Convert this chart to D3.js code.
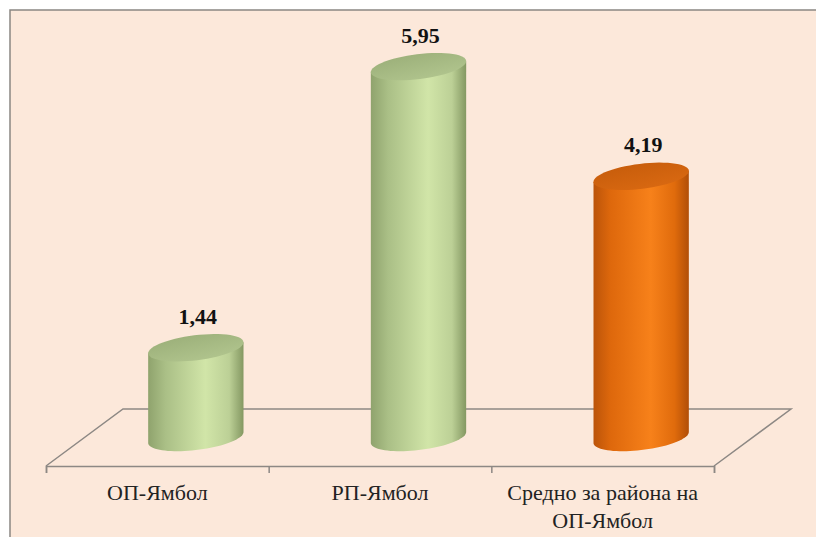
<!DOCTYPE html>
<html>
<head>
<meta charset="utf-8">
<script src="https://cdn.jsdelivr.net/npm/d3@7"></script>
<style>
  body { margin: 0; background: #fff; }
  svg { display: block; }
</style>
</head>
<body>
<svg width="816" height="537"></svg>
<script>
// data
var categories = ["ОП-Ямбол", "РП-Ямбол", "Средно за района на\nОП-Ямбол"];
var values = [1.44, 5.95, 4.19];
var yDomain = [0, 6];

var svg = d3.select("svg"),
    width = +svg.attr("width"),
    height = +svg.attr("height");

// comma decimal like the original
var fmt = d3.formatLocale({ decimal: ",", thousands: " ", grouping: [3], currency: ["", ""] }).format(".2f");

// background panel
svg.append("rect")
    .attr("x", 10).attr("y", 10)
    .attr("width", width).attr("height", height)
    .attr("fill", "#fce8da")
    .attr("stroke", "#8b8682")
    .attr("stroke-width", 1.5);

// floor geometry (front edge + depth offset)
var frontY = 466,
    depth = { dx: 77, dy: -57 };

var x = d3.scaleBand()
    .domain(categories)
    .range([46, 714])
    .paddingInner(0).paddingOuter(0);

var baseY = frontY + depth.dy / 2;
var y = d3.scaleLinear()
    .domain(yDomain)
    .range([baseY, baseY - 374]);

var color = d3.scaleOrdinal()
    .domain(categories)
    .range(["green", "green", "orange"]);

// gradients
var defs = svg.append("defs");
var palettes = {
  green: { body: ["#8fa36d", "#aabf86", "#d1e5a8", "#bcd096", "#849862"], top: ["#97ab75", "#b3c790"] },
  orange: { body: ["#bb540a", "#de680c", "#f7811a", "#e06b0c", "#b14e08"], top: ["#c35a0a", "#db6a12"] }
};
Object.keys(palettes).forEach(function (k) {
  var p = palettes[k];
  var g = defs.append("linearGradient").attr("id", "body-" + k)
      .attr("x1", "0").attr("x2", "1").attr("y1", "0").attr("y2", "0");
  [0, 0.18, 0.6, 0.85, 1].forEach(function (o, i) {
    g.append("stop").attr("offset", o).attr("stop-color", p.body[i]);
  });
  var t = defs.append("linearGradient").attr("id", "top-" + k)
      .attr("x1", "0").attr("x2", "0.8").attr("y1", "0").attr("y2", "1");
  t.append("stop").attr("offset", 0).attr("stop-color", p.top[0]);
  t.append("stop").attr("offset", 1).attr("stop-color", p.top[1]);
});

// floor outline
var x0 = x.range()[0], x1 = x.range()[1];
var floor = [
  [x0, frontY],
  [x0 + depth.dx, frontY + depth.dy],
  [x1 + depth.dx, frontY + depth.dy],
  [x1, frontY]
];
svg.append("path")
    .attr("d", d3.line()(floor))
    .attr("fill", "none")
    .attr("stroke", "#8d8884")
    .attr("stroke-width", 1.5);

// front edge with ticks at category boundaries
var tickScale = d3.scaleLinear().domain([0, categories.length]).range([x0, x1]);
var axis = svg.append("g")
    .attr("transform", "translate(0," + frontY + ")")
    .call(d3.axisBottom(tickScale).tickValues(d3.range(categories.length + 1)).tickSize(7).tickSizeOuter(7).tickFormat(""));
axis.selectAll("path, line").attr("stroke", "#8d8884").attr("stroke-width", 1.5);

// cylinders
var rx = 48, ry = 12.5, tilt = -7 * Math.PI / 180;
function ellipsePt(cx, cy, t) {
  return [
    cx + rx * Math.cos(t) * Math.cos(tilt) - ry * Math.sin(t) * Math.sin(tilt),
    cy + rx * Math.cos(t) * Math.sin(tilt) + ry * Math.sin(t) * Math.cos(tilt)
  ];
}
// parameters of the left/right silhouette points
var tRight = Math.atan(-(ry / rx) * Math.tan(tilt)),
    tLeft = tRight + Math.PI;

var bars = svg.append("g").selectAll("g")
    .data(categories)
    .enter().append("g");

bars.each(function (d, i) {
  var g = d3.select(this);
  var cx = x(d) + x.bandwidth() / 2 + depth.dx / 2,
      yb = y(0), yt = y(values[i]),
      k = color(d);

  // body: top left -> bottom left -> lower arc of bottom -> bottom right -> top right
  var pts = [ellipsePt(cx, yt, tLeft)];
  d3.range(0, 41).forEach(function (j) {
    var t = tLeft - (tLeft - tRight) * j / 40;
    pts.push(ellipsePt(cx, yb, t));
  });
  pts.push(ellipsePt(cx, yt, tRight));
  g.append("path")
      .attr("d", d3.line()(pts) + "Z")
      .attr("fill", "url(#body-" + k + ")");

  var topPts = d3.range(0, 61).map(function (j) { return ellipsePt(cx, yt, j / 60 * 2 * Math.PI); });
  g.append("path")
      .attr("d", d3.line()(topPts) + "Z")
      .attr("fill", "url(#top-" + k + ")");

  g.append("text")
      .attr("x", cx + 2)
      .attr("y", yt - 24)
      .attr("text-anchor", "middle")
      .attr("font-family", "Liberation Serif, Times New Roman, serif")
      .attr("font-weight", "bold")
      .attr("font-size", 22)
      .attr("fill", "#111")
      .text(fmt(values[i]));
});

// category labels
svg.append("g").selectAll("text")
    .data(categories)
    .enter().append("text")
    .attr("x", function (d) { return x(d) + x.bandwidth() / 2; })
    .attr("y", 500)
    .attr("text-anchor", "middle")
    .attr("font-family", "Liberation Serif, Times New Roman, serif")
    .attr("font-size", 22)
    .attr("fill", "#222")
    .each(function (d) {
      var t = d3.select(this);
      d.split("\n").forEach(function (line, j) {
        t.append("tspan")
            .attr("x", t.attr("x"))
            .attr("dy", j ? 28 : 0)
            .text(line);
      });
    });
</script>
</body>
</html>
